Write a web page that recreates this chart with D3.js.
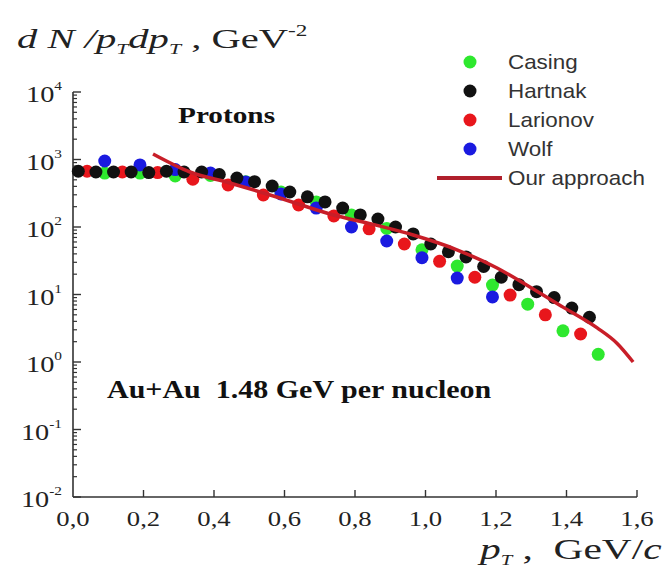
<!DOCTYPE html>
<html>
<head>
<meta charset="utf-8">
<script src="https://cdn.jsdelivr.net/npm/d3@7"></script>
<style>
  body { margin: 0; background: #fff; }
  svg { display: block; }
</style>
</head>
<body>
<svg id="chart" width="665" height="570"></svg>
<script>
// transverse momentum bins (GeV/c) and spectra values
var hartnakPt = [0.015,0.065,0.115,0.165,0.215,0.265,0.315,0.365,0.415,0.465,0.515,0.565,0.615,0.665,0.715,
                 0.765,0.815,0.865,0.915,0.965,1.015,1.065,1.115,1.165,1.215,1.265,1.315,1.365,1.415,1.465];
var hartnakVal = [670,653,653,653,640,670,653,653,600,530,470,405,330,280,235,
                  191,151,131,100,79,56,43,36,26,18,14,11,9,6.3,4.6];

var larionovPt = [0.04,0.14,0.24,0.34,0.44,0.54,0.64,0.74,0.84,0.94,1.04,1.14,1.24,1.34,1.44];
var larionovVal = [670,653,640,510,420,298,212,146,94,56,31,18,9.8,5.0,2.6];

var wolfPt = [0.09,0.19,0.29,0.39,0.49,0.59,0.69,0.79,0.89,0.99,1.09,1.19];
var wolfVal = [950,830,710,630,465,308,191,100,62,35,17.5,9.2];

var casingPt = [0.09,0.19,0.29,0.39,0.49,0.59,0.69,0.79,0.89,0.99,1.09,1.19,1.29,1.39,1.49];
var casingVal = [630,630,570,580,470,330,235,150,95,46,26.4,13.8,7.2,2.9,1.3];

var modelPt = [0.227,0.332,0.445,0.587,0.729,0.871,0.965,1.089,1.203,1.296,1.39,1.487,1.543,1.589];
var modelVal = [1205,653,449,269,156,103,76,46,24.7,12.9,6.5,3.2,1.9,1.0];

var xTicks = [0,0.2,0.4,0.6,0.8,1.0,1.2,1.4,1.6];
var yTicks = [1e-2,1e-1,1e0,1e1,1e2,1e3,1e4];

var legendNames = ["Casing","Hartnak","Larionov","Wolf","Our approach"];

var svg = d3.select("#chart");
var serif = "'Liberation Serif','Times New Roman',serif";
var sans = "'Liberation Sans',Arial,sans-serif";

var x = d3.scaleLinear().domain([0,1.6]).range([73,637]);
var y = d3.scaleLog().domain([1e-2,1e4]).range([497,92]);

svg.append("rect").attr("width",665).attr("height",570).attr("fill","#fff");

// the original figure is stretched sideways, so text gets a horizontal scale
function wideText(parent, px, py, sx) {
    return parent.append("text")
        .attr("transform","translate(" + px + "," + py + ") scale(" + sx + ",1)");
}

// axes
var axisColor = "#333";
svg.append("line").attr("x1",x(0)).attr("x2",x(0)).attr("y1",y(1e4)).attr("y2",y(1e-2))
   .attr("stroke",axisColor).attr("stroke-width",1.6);
svg.append("line").attr("x1",x(0)).attr("x2",x(1.6)).attr("y1",y(1e-2)).attr("y2",y(1e-2))
   .attr("stroke",axisColor).attr("stroke-width",1.6);

// log minor ticks on y
var minor = [];
for (var e = -2; e < 4; e++) {
    for (var m = 2; m < 10; m++) minor.push(m * Math.pow(10,e));
}
svg.append("g").selectAll("line.minor").data(minor).enter().append("line")
   .attr("x1",x(0)).attr("x2",x(0)+4)
   .attr("y1",function(d){return y(d);}).attr("y2",function(d){return y(d);})
   .attr("stroke",axisColor).attr("stroke-width",1.2);
svg.append("g").selectAll("line.major").data(yTicks).enter().append("line")
   .attr("x1",x(0)).attr("x2",x(0)+8)
   .attr("y1",function(d){return y(d);}).attr("y2",function(d){return y(d);})
   .attr("stroke",axisColor).attr("stroke-width",1.4);

yTicks.forEach(function(d){
    var t = wideText(svg, 62, y(d) + 10, 1.18)
        .attr("text-anchor","end")
        .attr("font-family",serif).attr("font-size",24).attr("fill","#222");
    var p = Math.round(Math.log10(d));
    t.append("tspan").text("10");
    t.append("tspan").attr("dy",-12).attr("font-size",13).text(p < 0 ? "-" + (-p) : p);
});

// x ticks
svg.append("g").selectAll("line").data(xTicks.slice(1)).enter().append("line")
   .attr("x1",function(d){return x(d);}).attr("x2",function(d){return x(d);})
   .attr("y1",y(1e-2)).attr("y2",y(1e-2)-7)
   .attr("stroke",axisColor).attr("stroke-width",1.4);
xTicks.forEach(function(d){
    wideText(svg, x(d), 526, 1.27)
        .attr("text-anchor","middle")
        .attr("font-family",serif).attr("font-size",21).attr("fill","#222")
        .text(d3.format(".1f")(d).replace(".",","));
});

// axis titles
var xt = wideText(svg, 480, 559, 1.38)
   .attr("font-family",serif).attr("font-size",30).attr("fill","#222")
   .attr("xml:space","preserve");
xt.append("tspan").attr("font-style","italic").text("p");
xt.append("tspan").attr("font-style","italic").attr("font-size",15).attr("dy",6).text("T");
xt.append("tspan").attr("dy",-6).text(" ,  GeV/");
xt.append("tspan").attr("font-style","italic").text("c");

var yt = wideText(svg, 17, 48, 1.45)
   .attr("font-family",serif).attr("font-size",28).attr("fill","#222");
yt.append("tspan").attr("font-style","italic").text("d N /p");
yt.append("tspan").attr("font-style","italic").attr("font-size",15).attr("dy",6).text("T");
yt.append("tspan").attr("font-style","italic").attr("dy",-6).text("dp");
yt.append("tspan").attr("font-style","italic").attr("font-size",15).attr("dy",6).text("T");
yt.append("tspan").attr("dy",-6).text(" , GeV");
yt.append("tspan").attr("font-size",16).attr("dy",-12).text("-2");

// annotations
wideText(svg, 178, 123, 1.22)
   .attr("font-family",serif).attr("font-weight","bold").attr("font-size",24).attr("fill","#111")
   .text("Protons");
wideText(svg, 107, 398, 1.2)
   .attr("font-family",serif).attr("font-weight","bold").attr("font-size",25).attr("fill","#111")
   .attr("xml:space","preserve")
   .text("Au+Au  1.48 GeV per nucleon");

// data
function zip(a, b) { return a.map(function(v, i){ return [v, b[i]]; }); }
var series = [
    {name:"Casing", color:"#2ee82e", pts:zip(casingPt, casingVal)},
    {name:"Wolf", color:"#1a1ae0", pts:zip(wolfPt, wolfVal)},
    {name:"Larionov", color:"#e8161c", pts:zip(larionovPt, larionovVal)},
    {name:"Hartnak", color:"#111111", pts:zip(hartnakPt, hartnakVal)}
];
series.forEach(function(s){
    svg.append("g").selectAll("circle").data(s.pts).enter().append("circle")
       .attr("cx",function(d){return x(d[0]);})
       .attr("cy",function(d){return y(d[1]);})
       .attr("r",6.5)
       .attr("fill",s.color);
});

var line = d3.line()
    .x(function(d){return x(d[0]);})
    .y(function(d){return y(d[1]);})
    .curve(d3.curveMonotoneX);
svg.append("path").datum(zip(modelPt, modelVal))
   .attr("d",line).attr("fill","none")
   .attr("stroke","#c81e28").attr("stroke-width",3.5);

// legend
var legColors = {"Casing":"#2ee82e","Hartnak":"#111111","Larionov":"#e8161c","Wolf":"#1a1ae0"};
var lg = svg.append("g");
legendNames.forEach(function(n, i){
    var cy = 62 + i * 29;
    if (n === "Our approach") {
        lg.append("line").attr("x1",437).attr("x2",502).attr("y1",cy).attr("y2",cy)
          .attr("stroke","#b0202c").attr("stroke-width",4);
    } else {
        lg.append("circle").attr("cx",470).attr("cy",cy).attr("r",6.5).attr("fill",legColors[n]);
    }
    wideText(lg, 508, cy + 7, 1.12)
      .attr("font-family",sans).attr("font-size",20).attr("fill","#333")
      .text(n);
});
</script>
</body>
</html>
